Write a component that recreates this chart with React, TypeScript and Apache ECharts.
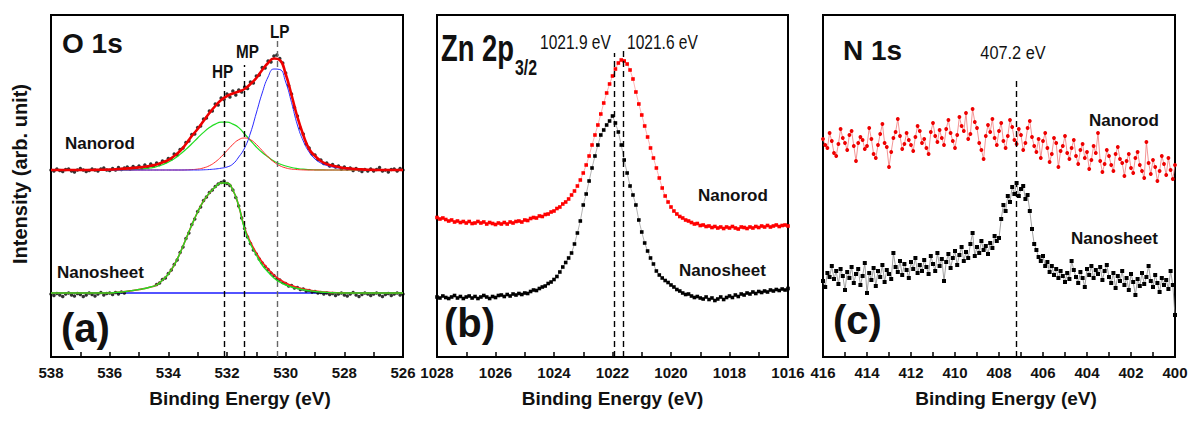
import React, { useEffect, useRef } from "react";
import * as echarts from "echarts";

// ---------------- Panel (a): O 1s ----------------
const aRange = [526, 538];
const aStart = 538; // data start energy (eV)
const aRawStep = 0.1;
const aFitStep = 0.2;
// Nanorod raw data (0.1 eV steps from 538 to 526)
const aRodRaw = [
  187, 186, 188, 186.5, 185.5, 187.5, 188, 186, 185, 187,
  188.5, 187, 185.5, 186.5, 188, 187, 186, 188, 189, 187,
  186.5, 188.5, 187, 189.5, 187.5, 189, 190, 188, 190.5, 189,
  191, 189, 192, 190, 193, 191, 194, 192.5, 196, 195,
  198.5, 198, 203, 202, 207.5, 209, 214.5, 216, 222.5, 223,
  229.5, 231, 238, 239, 246, 246, 253, 252, 259, 257.5,
  263, 260, 266, 262, 267, 265, 270, 268.5, 275, 274,
  281, 282, 289.5, 289, 296, 295, 301, 302, 298.5, 294,
  284, 271.5, 263, 249.5, 241, 229, 223, 213, 209, 203,
  202, 197.5, 197, 193.5, 194, 191, 192.5, 190, 191, 188,
  190, 188, 189, 186.5, 188.5, 187, 185.5, 187.5, 186, 188,
  186, 187.5, 189.5, 186, 187, 185, 187.5, 188, 186, 188.5,
  187,
];
// Nanorod fitted curves (0.2 eV steps from 538 to 526)
const aRodEnvelope = [
  187, 187, 187, 187, 187, 187, 187, 187, 187.2, 187.3, 187.5,
  187.8, 188.2, 188.6, 189.1, 189.6, 190.3, 191.3, 192.6, 194.5, 197,
  201, 206, 213, 221, 228, 236, 244, 251, 257, 261,
  263.5, 265.5, 268, 273, 279, 287, 294, 298.5, 297, 283,
  262, 240, 222, 208, 201, 196, 193, 191.3, 190, 189,
  188.5, 188, 187.6, 187.3, 187.1, 187, 187, 187, 187, 187,
];
const aRodHP = [
  187, 187, 187, 187, 187, 187, 187, 187, 187, 187, 187,
  187, 187, 187.2, 187.4, 187.7, 188.3, 189.1, 190.4, 192.3, 194.9,
  198.3, 202.6, 207.6, 213.2, 219, 224.6, 229.4, 232.9, 234.8, 234.8,
  232.9, 229.4, 223, 216.5, 210, 204.5, 200, 196, 193, 191,
  189.5, 188.5, 187.8, 187.4, 187.2, 187.1, 187, 187, 187, 187,
  187, 187, 187, 187, 187, 187, 187, 187, 187, 187,
];
const aRodMP = [
  187, 187, 187, 187, 187, 187, 187, 187, 187, 187, 187,
  187, 187, 187, 187, 187, 187, 187, 187, 187, 187,
  187, 187, 187.1, 187.4, 187.9, 189.1, 191.3, 195, 200.2, 206.4,
  212.6, 217.3, 219, 217.3, 212.6, 206.4, 200.2, 195, 191.3, 189.1,
  187.9, 187.4, 187.1, 187, 187, 187, 187, 187, 187, 187,
  187, 187, 187, 187, 187, 187, 187, 187, 187, 187,
];
const aRodLP = [
  187, 187, 187, 187, 187, 187, 187, 187, 187, 187, 187,
  187, 187, 187, 187, 187, 187, 187, 187, 187, 187,
  187, 187, 187, 187, 187, 187.2, 187.5, 188, 188.8, 190,
  193, 200, 209, 224, 244, 264, 280, 288, 287.5, 275,
  254.5, 232, 216, 205, 198, 194, 191.5, 190, 189, 188.3,
  187.8, 187.5, 187.2, 187.1, 187, 187, 187, 187, 187, 187,
];
// Nanosheet raw data (0.1 eV steps from 538 to 526; null = no point)
const aSheetRaw = [
  63, 61.5, 63.5, 62, 60.5, 63, 64, 62, 61, 63.5,
  62.5, 60.5, 62, 64, 62.5, 61, 63, 64.5, 62, 63.5,
  64, 62.5, 64.5, 63, 65, 64, null, null, null, null,
  null, null, null, null, null, null, 72.5, 74, 77.5, 79,
  83.5, 87, 92.5, 97, 104.5, 110, 118.5, 124, 132.5, 138,
  145.5, 150, 156.5, 160, 164.5, 167, 170.5, 173, 174.5, 176,
  173.5, 171.5, 167, 159.5, 151, 139, 128.5, 120, 113.5, 107,
  103, 98, 94, 90.5, 87.5, 84, 81.5, 78.5, 77, 74.5,
  73.5, 71, 71.5, 69, 69.5, 67.5, 68, 66, 66.5, 65,
  65.5, 64, 64.5, 63, 64, 62.5, 63.5, 61.5, 63, 64,
  62, 61, 63, 64.5, 62, 60.5, 62.5, 64, 63, 61.5,
  63, 64, 62, 60.5, 62.5, 63.5, 61.5, 63, 64, 62,
  63,
];
// Nanosheet fitted curves (0.2 eV steps from 538 to 526)
const aSheetFitGreen = [
  64, 64, 64, 64, 64, 64, 64, 64, 64, 64, 64,
  64.5, 65, 65.8, 66.5, 67.5, 68.5, 70, 72, 77, 83,
  92, 104, 118, 132, 145, 156, 164, 170, 174, 174,
  167, 151, 128, 113, 102, 92, 85, 79, 75, 72,
  70, 68.5, 67.3, 66.3, 65.5, 65, 64.6, 64.3, 64.1, 64,
  64, 64, 64, 64, 64, 64, 64, 64, 64, 64,
];
const aSheetFitRed = [
  64, 64, 64, 64, 64, 64, 64, 64, 64, 64, 64,
  64.5, 65, 65.8, 66.5, 67.5, 68.5, 70, 72, 77, 83,
  92, 104, 118, 132, 145, 156, 164, 170, 174, 174,
  167, 151, 129, 115, 104, 95, 88, 82, 77.5, 74,
  71.5, 69.5, 68, 67, 66, 65.3, 64.8, 64.4, 64.2, 64.1,
  64, 64, 64, 64, 64, 64, 64, 64, 64, 64,
];
const aSheetBaseline = 64;
const aPeakNames = ["HP", "MP", "LP"];
const aPeakPositions = [532.1, 531.4, 530.3];
const aPeakLineTops = [277, 292, 319];

// ---------------- Panel (b): Zn 2p3/2 ----------------
const bRange = [1016, 1028];
const bStart = 1028;
const bStep = 0.1;
const bRod = [
  139.5, 138, 139, 137.5, 136, 137, 135, 136, 134.5, 135.5,
  134, 135.5, 133.5, 134, 135.5, 134, 135, 133, 134.5, 133.5,
  132.5, 134, 133, 134.5, 133, 135, 134, 135.5, 136, 135,
  137, 136.5, 138.5, 139.5, 139, 141, 140.5, 142.5, 143, 145,
  146, 148.5, 150, 153, 155, 158, 162, 166, 171, 177,
  184, 192, 201, 212, 222, 232, 243, 254, 264, 273,
  281, 288, 294, 297, 296, 293, 287, 278, 265, 253,
  242, 231, 220, 209, 199, 189, 179, 169, 161, 155,
  150, 146, 143, 140.5, 139, 137, 136, 134.5, 133, 133.5,
  131.5, 132, 130.5, 131, 129.5, 130.5, 129, 130, 128.5, 130,
  129, 130.5, 129, 128, 130, 129.5, 128.5, 130, 129, 130.5,
  129.5, 131, 130, 131.5, 130, 131, 132, 130.5, 131.5, 132,
  131,
];
const bSheet = [
  60, 59, 61, 59.5, 58.5, 60, 61.5, 59, 60.5, 58.5,
  60, 61, 59, 60.5, 58.5, 60, 61.5, 60, 58.5, 60.5,
  59.5, 61.5, 62, 60.5, 62.5, 61, 63, 62, 63.5, 62.5,
  64, 63.5, 65.5, 67, 66.5, 68.5, 70, 71, 73.5, 75,
  77.5, 80.5, 85, 90, 94.5, 99, 104, 113, 124, 136,
  152, 163, 176, 189, 201, 212, 222, 227, 232, 236,
  241, 234, 225, 212, 197, 184, 171, 162, 152, 137,
  125, 114, 106, 99, 93, 86, 82, 79, 76.5, 74.5,
  72, 70, 67.5, 66, 64, 62.5, 63, 61, 59.5, 60.5,
  59, 58, 60, 57.5, 59, 56.5, 58, 60, 57.5, 59.5,
  61, 59.5, 62, 60.5, 63, 62, 64, 63, 65, 63.5,
  65.5, 64.5, 66, 65, 67, 66, 67.5, 66.5, 68, 67,
  68.5,
];
const bPeakLabels = ["1021.9 eV", "1021.6 eV"];
const bPeakPositions = [1021.95, 1021.62];
const bPeakLineTops = [304, 310];

// ---------------- Panel (c): N 1s ----------------
const cRange = [400, 416];
const cStart = 416;
const cStep = 0.1;
const cRod = [
  218, 212, 209, 224, 216, 204, 201, 213, 228, 219,
  214, 207, 222, 226, 211, 196, 214, 220, 217, 208,
  211, 229, 218, 203, 199, 212, 223, 233, 214, 210,
  190, 205, 219, 225, 238, 221, 208, 213, 224, 217,
  212, 206, 220, 231, 226, 214, 218, 209, 203, 225,
  234, 221, 215, 227, 219, 212, 228, 237, 224, 216,
  209, 222, 240, 231, 226, 244, 218, 223, 248, 235,
  229, 214, 207, 198, 221, 232, 225, 238, 219, 212,
  226, 234, 216, 209, 221, 237, 230, 217, 213, 228,
  222, 207, 214, 229, 236, 220, 211, 205, 218, 199,
  216, 224, 209, 195, 203, 219, 214, 190, 206, 211,
  221, 204, 198, 209, 217, 201, 193, 207, 213, 199,
  205, 188, 197, 211, 204, 224, 196, 185, 193, 207,
  201, 192, 186, 203, 210, 198, 194, 181, 196, 203,
  189, 184, 199, 205, 192, 186, 179, 215, 194, 183,
  197, 190, 176, 186, 201, 193, 182, 199, 187, 178,
  192,
];
const cSheet = [
  76, 70, 84, 80, 91, 78, 86, 73, 88, 81,
  67, 85, 79, 90, 74, 83, 88, 72, 81, 94,
  64, 84, 77, 89, 71, 86, 80, 92, 75, 87,
  83, 78, 104, 90, 85, 96, 82, 93, 87, 79,
  95, 88, 99, 84, 92, 86, 97, 90, 83, 101,
  93, 86, 104, 91, 98, 76, 95, 103, 89, 99,
  106, 92, 102, 110, 96, 105, 99, 113, 124, 101,
  110, 104, 116, 107, 111, 103, 114, 109, 121, 116,
  119, 138, 152, 146, 161, 155, 170, 163, 174, 161,
  168, 171, 158, 162, 146, 128, 113, 107, 100, 96,
  101, 91, 95, 85, 91, 82, 88, 79, 86, 81,
  75, 84, 78, 96, 87, 80, 74, 85, 79, 70,
  88, 82, 91, 79, 87, 83, 90, 77, 86, 92,
  80, 74, 84, 69, 81, 76, 86, 72, 79, 67,
  83, 75, 62, 78, 71, 84, 73, 80, 91, 76,
  70, 82, 74, 65, 79, 72, 77, 68, 86, 72,
  42,
];
const cPeakLabel = "407.2 eV";
const cPeakPosition = 407.2;
const cPeakLineTop = 280;

const xTitle = "Binding Energy (eV)";
const yTitle = "Intensity (arb. unit)";
const yMax = 342;

const FONT = "'Liberation Sans', Arial, Helvetica, sans-serif";

function toPairs(start: number, step: number, values: (number | null)[]) {
  const out: number[][] = [];
  values.forEach((v, i) => {
    if (v !== null) out.push([+(start - step * i).toFixed(2), v]);
  });
  return out;
}

function vLines(positions: number[], tops: number[], colors: string[]) {
  return {
    silent: true,
    symbol: "none",
    label: { show: false },
    data: positions.map((p, i) => [
      { coord: [p, 0], lineStyle: { color: colors[i], type: [6, 4], width: 1.4 } },
      { coord: [p, tops[i]] },
    ]),
  };
}

function makeXAxis(gridIndex: number, range: number[], shiftPad: number) {
  return {
    type: "value",
    gridIndex,
    min: range[0],
    max: range[1],
    interval: 2,
    inverse: true,
    name: xTitle,
    nameLocation: "middle",
    nameGap: 32,
    nameTextStyle: {
      fontFamily: FONT,
      fontWeight: "bold",
      fontSize: 19,
      color: "#111",
      padding: shiftPad > 0 ? [0, 0, 0, shiftPad] : [0, -shiftPad, 0, 0],
    },
    axisLine: { show: true, lineStyle: { color: "#000", width: 2 } },
    axisTick: { show: true, inside: true, length: 5, lineStyle: { color: "#000", width: 1.5 } },
    minorTick: { show: true, splitNumber: 2, length: 5, lineStyle: { color: "#000", width: 1.5 } },
    splitLine: { show: false },
    minorSplitLine: { show: false },
    axisLabel: {
      show: true,
      margin: 8,
      showMinLabel: true,
      showMaxLabel: true,
      formatter: (v: number) => String(v),
      fontFamily: FONT,
      fontWeight: "bold",
      fontSize: 15,
      color: "#111",
    },
  };
}

function makeYAxis(gridIndex: number) {
  return { type: "value", gridIndex, min: 0, max: yMax, show: false };
}

function txt(text: string, x: number, y: number, size: number, opts: any = {}) {
  return {
    type: "text",
    x,
    y,
    scaleX: opts.scaleX ?? 1,
    rotation: opts.rotation ?? 0,
    silent: true,
    style: {
      text,
      fill: opts.color ?? "#111",
      fontFamily: FONT,
      fontWeight: opts.weight ?? "bold",
      fontSize: size,
      textAlign: opts.align ?? "left",
      textVerticalAlign: "middle",
    },
  };
}

export default function App() {
  const ref = useRef<HTMLDivElement>(null);
  useEffect(() => {
    if (!ref.current) return;
    const chart = echarts.init(ref.current, undefined, { renderer: "svg" });

    const gridCommon = { show: true, borderColor: "#000", borderWidth: 2, backgroundColor: "transparent", top: 15, height: 342 };

    const series: any[] = [
      // ---- panel a ----
      {
        type: "line", xAxisIndex: 0, yAxisIndex: 0, name: "Nanosheet baseline",
        data: [[aRange[1], aSheetBaseline], [aRange[0], aSheetBaseline]],
        showSymbol: false, lineStyle: { color: "#1a1aff", width: 1.6 }, z: 2,
        markLine: vLines(aPeakPositions, aPeakLineTops, ["#000", "#000", "#666"]),
      },
      {
        type: "scatter", xAxisIndex: 0, yAxisIndex: 0, name: "Nanosheet data",
        data: toPairs(aStart, aRawStep, aSheetRaw), symbol: "circle", symbolSize: 3.5,
        itemStyle: { color: "#000" }, z: 3,
      },
      {
        type: "line", xAxisIndex: 0, yAxisIndex: 0, name: "Nanosheet fit red",
        data: toPairs(aStart, aFitStep, aSheetFitRed), smooth: true, showSymbol: false,
        lineStyle: { color: "#ff1a1a", width: 1.6 }, z: 4,
      },
      {
        type: "line", xAxisIndex: 0, yAxisIndex: 0, name: "Nanosheet fit green",
        data: toPairs(aStart, aFitStep, aSheetFitGreen), smooth: true, showSymbol: false,
        lineStyle: { color: "#22dd22", width: 1.4 }, z: 5,
      },
      {
        type: "scatter", xAxisIndex: 0, yAxisIndex: 0, name: "Nanorod data",
        data: toPairs(aStart, aRawStep, aRodRaw), symbol: "circle", symbolSize: 3.5,
        itemStyle: { color: "#000" }, z: 3,
      },
      {
        type: "line", xAxisIndex: 0, yAxisIndex: 0, name: "HP",
        data: toPairs(aStart, aFitStep, aRodHP), smooth: true, showSymbol: false,
        lineStyle: { color: "#22dd22", width: 1.2 }, z: 4,
      },
      {
        type: "line", xAxisIndex: 0, yAxisIndex: 0, name: "MP",
        data: toPairs(aStart, aFitStep, aRodMP), smooth: true, showSymbol: false,
        lineStyle: { color: "#ff2a2a", width: 1 }, z: 4,
      },
      {
        type: "line", xAxisIndex: 0, yAxisIndex: 0, name: "LP",
        data: toPairs(aStart, aFitStep, aRodLP), smooth: true, showSymbol: false,
        lineStyle: { color: "#2a2aff", width: 1 }, z: 4,
      },
      {
        type: "line", xAxisIndex: 0, yAxisIndex: 0, name: "Nanorod fit",
        data: toPairs(aStart, aFitStep, aRodEnvelope), smooth: true, showSymbol: false,
        lineStyle: { color: "#ee0000", width: 2.6 }, z: 6,
      },
      // ---- panel b ----
      {
        type: "line", xAxisIndex: 1, yAxisIndex: 1, name: "Zn Nanorod",
        data: toPairs(bStart, bStep, bRod), showSymbol: true, symbol: "rect", symbolSize: 3.6,
        itemStyle: { color: "#ff0000" }, lineStyle: { color: "#ff0000", width: 0.6, opacity: 0.5 }, z: 3,
        markLine: vLines(bPeakPositions, bPeakLineTops, ["#000", "#000"]),
      },
      {
        type: "line", xAxisIndex: 1, yAxisIndex: 1, name: "Zn Nanosheet",
        data: toPairs(bStart, bStep, bSheet), showSymbol: true, symbol: "rect", symbolSize: 3.6,
        itemStyle: { color: "#000" }, lineStyle: { color: "#000", width: 0.6, opacity: 0.5 }, z: 3,
      },
      // ---- panel c ----
      {
        type: "line", xAxisIndex: 2, yAxisIndex: 2, name: "N Nanorod",
        data: toPairs(cStart, cStep, cRod), showSymbol: true, symbol: "circle", symbolSize: 3.8,
        itemStyle: { color: "#ee0000" }, lineStyle: { color: "#f07a7a", width: 0.8 }, z: 3,
        markLine: vLines([cPeakPosition], [cPeakLineTop], ["#000"]),
      },
      {
        type: "line", xAxisIndex: 2, yAxisIndex: 2, name: "N Nanosheet",
        data: toPairs(cStart, cStep, cSheet), showSymbol: true, symbol: "rect", symbolSize: 4,
        itemStyle: { color: "#000" }, lineStyle: { color: "#8a8a8a", width: 0.8 }, z: 3,
      },
    ];

    const graphics: any[] = [
      txt(yTitle, 20, 174, 20, { rotation: Math.PI / 2, align: "center" }),
      // panel a
      txt("O 1s", 62, 43, 28),
      txt(aPeakNames[0], 212, 72, 18, { scaleX: 0.85 }),
      txt(aPeakNames[1], 236, 52, 18, { scaleX: 0.85 }),
      txt(aPeakNames[2], 270, 32, 18, { scaleX: 0.85 }),
      txt("Nanorod", 65, 143, 17),
      txt("Nanosheet", 57, 272, 17),
      txt("(a)", 61, 328, 40),
      // panel b
      txt("Zn 2p", 441, 48, 37, { scaleX: 0.74 }),
      txt("3/2", 515, 68, 22, { scaleX: 0.72 }),
      txt(bPeakLabels[0], 540, 42, 21, { scaleX: 0.74, weight: "normal" }),
      txt(bPeakLabels[1], 627, 42, 21, { scaleX: 0.74, weight: "normal" }),
      txt("Nanorod", 698, 195, 17),
      txt("Nanosheet", 679, 270, 17),
      txt("(b)", 444, 323, 40),
      // panel c
      txt("N 1s", 843, 50, 28),
      txt(cPeakLabel, 1013, 53, 19, { scaleX: 0.86, weight: "normal", align: "center" }),
      txt("Nanorod", 1089, 120, 17),
      txt("Nanosheet", 1071, 238, 17),
      txt("(c)", 833, 320, 40),
    ];

    chart.setOption({
      animation: false,
      backgroundColor: "#fff",
      grid: [
        { ...gridCommon, left: 51, width: 352 },
        { ...gridCommon, left: 437, width: 351 },
        { ...gridCommon, left: 823, width: 352 },
      ],
      xAxis: [makeXAxis(0, aRange, 26), makeXAxis(1, bRange, 0), makeXAxis(2, cRange, 14)],
      yAxis: [makeYAxis(0), makeYAxis(1), makeYAxis(2)],
      series,
      graphic: graphics,
    });
    return () => chart.dispose();
  }, []);
  return (
    <div
      ref={ref}
      style={{ position: "fixed", left: 0, top: 0, width: 1200, height: 423, background: "#fff" }}
    />
  );
}
